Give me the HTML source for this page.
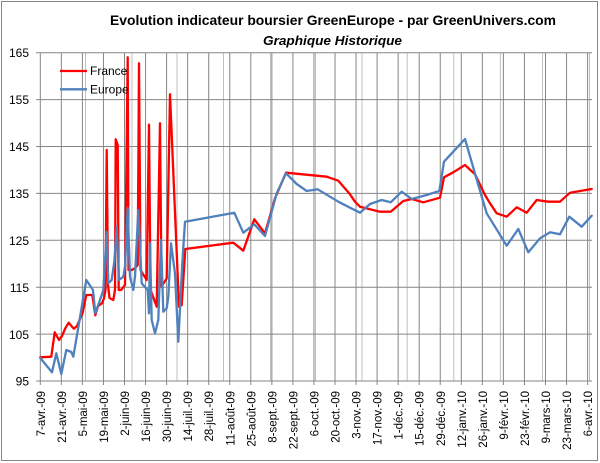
<!DOCTYPE html>
<html><head><meta charset="utf-8"><style>
html,body{margin:0;padding:0;background:#fff;}
svg{display:block;}
text{font-family:"Liberation Sans",sans-serif;fill:#000;}
</style></head><body>
<svg width="600" height="463" viewBox="0 0 600 463" xmlns="http://www.w3.org/2000/svg">
<rect x="0" y="0" width="600" height="463" fill="#fff"/>
<rect x="1.5" y="1.5" width="596" height="459" fill="none" stroke="#868686" stroke-width="1"/>
<text x="333" y="25" font-size="14" font-weight="bold" text-anchor="middle" textLength="446" lengthAdjust="spacingAndGlyphs">Evolution indicateur boursier GreenEurope - par GreenUnivers.com</text>
<text x="332.5" y="45" font-size="13" font-weight="bold" font-style="italic" text-anchor="middle" textLength="139" lengthAdjust="spacingAndGlyphs">Graphique Historique</text>
<g stroke="#c0c0c0" stroke-width="1">
<line x1="85.5" y1="52.7" x2="85.5" y2="381"/>
<line x1="132" y1="52.7" x2="132" y2="381"/>
<line x1="177" y1="52.7" x2="177" y2="381"/>
<line x1="223.5" y1="52.7" x2="223.5" y2="381"/>
<line x1="270.5" y1="52.7" x2="270.5" y2="381"/>
<line x1="315.5" y1="52.7" x2="315.5" y2="381"/>
<line x1="362" y1="52.7" x2="362" y2="381"/>
<line x1="407.2" y1="52.7" x2="407.2" y2="381"/>
<line x1="453.8" y1="52.7" x2="453.8" y2="381"/>
<line x1="500.4" y1="52.7" x2="500.4" y2="381"/>
<line x1="542.5" y1="52.7" x2="542.5" y2="381"/>
<line x1="589.5" y1="52.7" x2="589.5" y2="381"/>
</g>
<g stroke="#868686" stroke-width="1">
<line x1="40.3" y1="52.7" x2="40.3" y2="385"/>
<line x1="61.35" y1="52.7" x2="61.35" y2="385"/>
<line x1="82.4" y1="52.7" x2="82.4" y2="385"/>
<line x1="103.45" y1="52.7" x2="103.45" y2="385"/>
<line x1="124.5" y1="52.7" x2="124.5" y2="385"/>
<line x1="145.55" y1="52.7" x2="145.55" y2="385"/>
<line x1="166.6" y1="52.7" x2="166.6" y2="385"/>
<line x1="187.65" y1="52.7" x2="187.65" y2="385"/>
<line x1="208.7" y1="52.7" x2="208.7" y2="385"/>
<line x1="229.75" y1="52.7" x2="229.75" y2="385"/>
<line x1="250.8" y1="52.7" x2="250.8" y2="385"/>
<line x1="271.85" y1="52.7" x2="271.85" y2="385"/>
<line x1="292.9" y1="52.7" x2="292.9" y2="385"/>
<line x1="313.95" y1="52.7" x2="313.95" y2="385"/>
<line x1="335" y1="52.7" x2="335" y2="385"/>
<line x1="356.05" y1="52.7" x2="356.05" y2="385"/>
<line x1="377.1" y1="52.7" x2="377.1" y2="385"/>
<line x1="398.15" y1="52.7" x2="398.15" y2="385"/>
<line x1="419.2" y1="52.7" x2="419.2" y2="385"/>
<line x1="440.25" y1="52.7" x2="440.25" y2="385"/>
<line x1="461.3" y1="52.7" x2="461.3" y2="385"/>
<line x1="482.35" y1="52.7" x2="482.35" y2="385"/>
<line x1="503.4" y1="52.7" x2="503.4" y2="385"/>
<line x1="524.45" y1="52.7" x2="524.45" y2="385"/>
<line x1="545.5" y1="52.7" x2="545.5" y2="385"/>
<line x1="566.55" y1="52.7" x2="566.55" y2="385"/>
<line x1="587.6" y1="52.7" x2="587.6" y2="385"/>
<line x1="36" y1="52.7" x2="592" y2="52.7"/>
<line x1="36" y1="99.6" x2="592" y2="99.6"/>
<line x1="36" y1="146.5" x2="592" y2="146.5"/>
<line x1="36" y1="193.4" x2="592" y2="193.4"/>
<line x1="36" y1="240.3" x2="592" y2="240.3"/>
<line x1="36" y1="287.2" x2="592" y2="287.2"/>
<line x1="36" y1="334.1" x2="592" y2="334.1"/>
<line x1="36" y1="381" x2="592" y2="381"/>
</g>
<g font-size="12" text-anchor="end">
<text x="29" y="57">165</text>
<text x="29" y="104">155</text>
<text x="29" y="151">145</text>
<text x="29" y="198">135</text>
<text x="29" y="245">125</text>
<text x="29" y="292">115</text>
<text x="29" y="339">105</text>
<text x="29" y="385.5">95</text>
</g>
<g font-size="11.5" text-anchor="end">
<text transform="translate(44.8,391) rotate(-90)">7-avr.-09</text>
<text transform="translate(65.85,391) rotate(-90)">21-avr.-09</text>
<text transform="translate(86.9,391) rotate(-90)">5-mai-09</text>
<text transform="translate(107.95,391) rotate(-90)">19-mai-09</text>
<text transform="translate(129,391) rotate(-90)">2-juin-09</text>
<text transform="translate(150.05,391) rotate(-90)">16-juin-09</text>
<text transform="translate(171.1,391) rotate(-90)">30-juin-09</text>
<text transform="translate(192.15,391) rotate(-90)">14-juil.-09</text>
<text transform="translate(213.2,391) rotate(-90)">28-juil.-09</text>
<text transform="translate(234.25,391) rotate(-90)">11-août-09</text>
<text transform="translate(255.3,391) rotate(-90)">25-août-09</text>
<text transform="translate(276.35,391) rotate(-90)">8-sept.-09</text>
<text transform="translate(297.4,391) rotate(-90)">22-sept.-09</text>
<text transform="translate(318.45,391) rotate(-90)">6-oct.-09</text>
<text transform="translate(339.5,391) rotate(-90)">20-oct.-09</text>
<text transform="translate(360.55,391) rotate(-90)">3-nov.-09</text>
<text transform="translate(381.6,391) rotate(-90)">17-nov.-09</text>
<text transform="translate(402.65,391) rotate(-90)">1-déc.-09</text>
<text transform="translate(423.7,391) rotate(-90)">15-déc.-09</text>
<text transform="translate(444.75,391) rotate(-90)">29-déc.-09</text>
<text transform="translate(465.8,391) rotate(-90)">12-janv.-10</text>
<text transform="translate(486.85,391) rotate(-90)">26-janv.-10</text>
<text transform="translate(507.9,391) rotate(-90)">9-févr.-10</text>
<text transform="translate(528.95,391) rotate(-90)">23-févr.-10</text>
<text transform="translate(550,391) rotate(-90)">9-mars-10</text>
<text transform="translate(571.05,391) rotate(-90)">23-mars-10</text>
<text transform="translate(592.1,391) rotate(-90)">6-avr.-10</text>
</g>
<polyline fill="none" stroke="#ff0000" stroke-width="2.3" stroke-linejoin="round" stroke-linecap="round" points="
40.3,357.3 51.3,356.7 54.7,332.3 59,340 62,336 65.3,328.3 68.7,322.7 72,326.7 74,328.7 77,326 82.7,312.7 86.3,295 92.3,295 95.3,315.3 98,306 102,303.3 104,298.3 105.5,290 106.7,150 108,285 109.5,298 113.3,300 115,290 115.7,139.3 116.7,142 117.7,145 118.7,290 121,290 125,285 127.7,57.3 128.5,270 131.7,270 135,268.3 137.7,265 139,63.3 140.5,270 146.7,280 149,124.7 150.5,290 151.7,293 156.7,306.7 160,123.3 161.5,286.7 166.7,278.3 170,94.3 179,306.7 181.7,305 185.3,249 233.3,242.7 243.3,250.7 254.3,219.3 265,233.3 275,198.3 286,172.7 326.7,176.7 338.3,180.7 350,194.3 355,201.7 360,206.7 380,211.7 390.7,211.7 403.3,201 411.7,199 423.3,202.3 440,197.7 444,177.3 453.3,172.3 465,165 475,174.3 485,195 490,203.3 496.7,213.3 506.7,216.7 516.7,207.3 526.7,212.7 536.7,200 548.3,201.7 560,201.7 570,192.7 591.7,189"/>
<polyline fill="none" stroke="#4f81bd" stroke-width="2.3" stroke-linejoin="round" stroke-linecap="round" points="
40.3,358 52,372.3 56.3,353.3 61.3,374 66.3,350 71.3,352 73.3,356.7 77,335 86.3,280 93,290 95.3,313.3 100,300 103.3,290 106.7,232 108.3,283.3 111.7,280 114.3,261.7 116.7,226.5 119,280 123.3,276.7 125,266.7 127.7,208 130,276.7 133.3,290 135,276.7 138.3,210 141.7,283.3 147.7,290 149,313.3 150,243.3 151.7,320 155,333.3 158.3,320 161,240 163.3,311.7 166.7,308.3 168.3,296.7 171,243.3 175,273.3 178.3,341.7 182.3,263.3 185,221.7 234.3,212.7 243.3,232.7 254.3,224.3 265,236 276.7,193.3 286,173.3 296.7,184 306.7,191 317.7,189.3 338.3,201.7 350,207.7 360,212.7 370,204 381.7,200 390.7,202.3 401.7,191.7 411.7,199 426.7,195 439.3,191 444,161.7 465,139 478.3,185 486.7,213.3 506.7,245.7 518.3,229 528.3,252.3 540,238.3 550,232.3 560,234.3 569.3,216.7 581.7,226.7 591.7,215.7"/>
<line x1="60" y1="71" x2="87" y2="71" stroke="#ff0000" stroke-width="2.3"/>
<line x1="60" y1="89.3" x2="87" y2="89.3" stroke="#4f81bd" stroke-width="2.3"/>
<text x="90" y="75" font-size="12">France</text>
<text x="90" y="93.5" font-size="12">Europe</text>
</svg>
</body></html>
